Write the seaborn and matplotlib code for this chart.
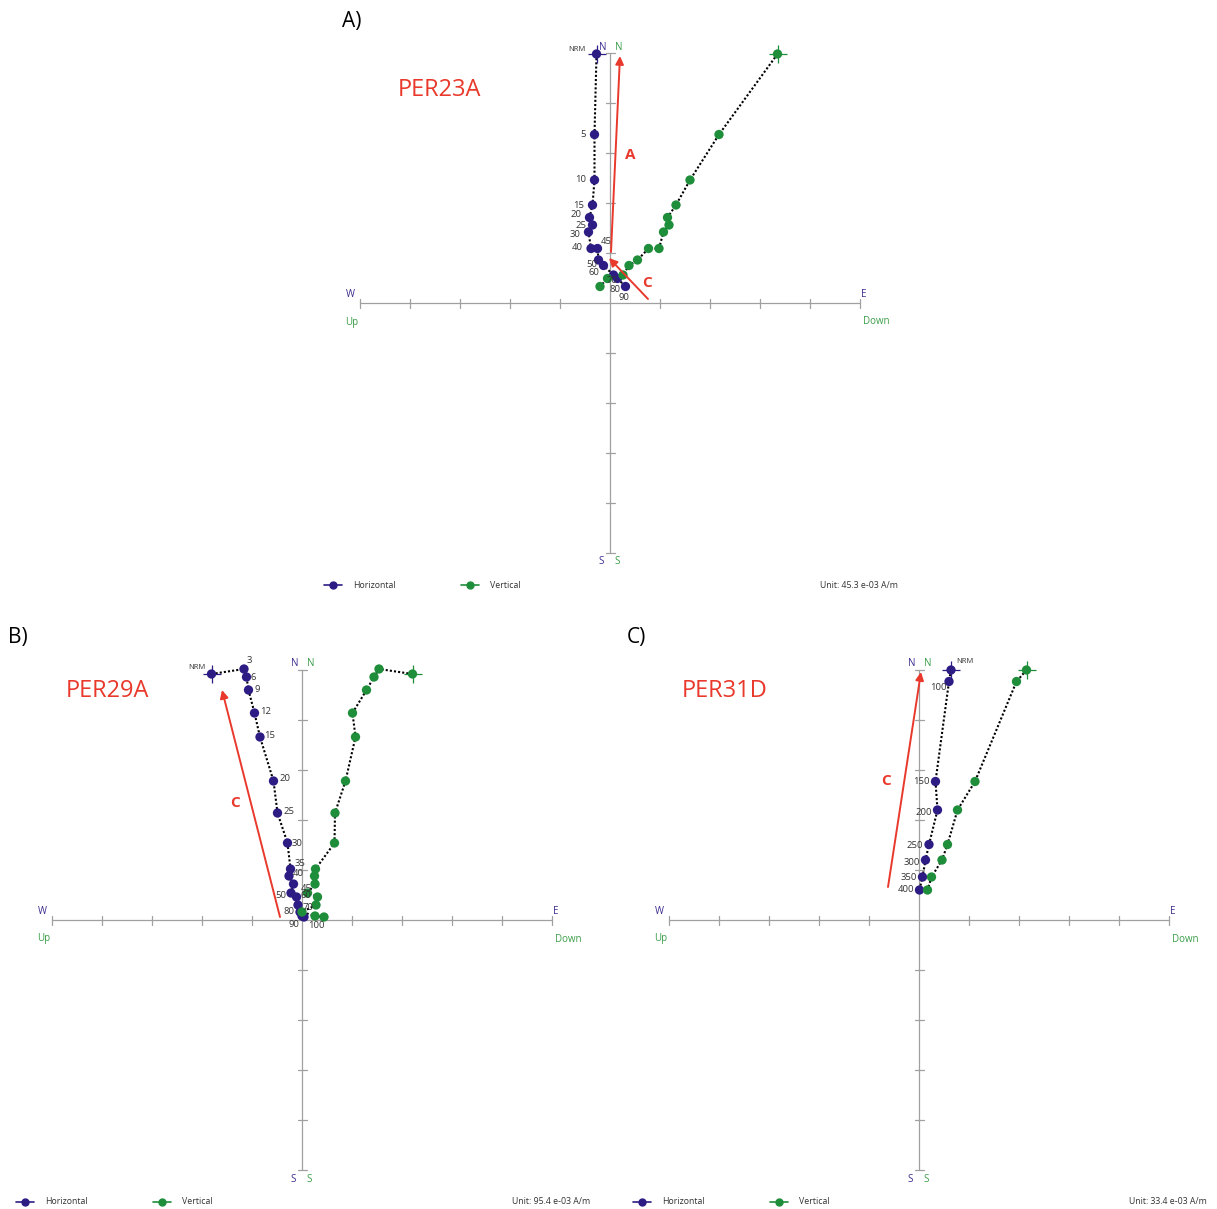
import numpy as np
import pandas as pd
import matplotlib
matplotlib.use("Agg")
import matplotlib.pyplot as plt
import seaborn as sns

# ---------------- data (units of each panel's scale) ----------------
# Panel A: PER23A
a_steps = ["NRM", "5", "10", "15", "20", "25", "30", "40", "45", "50", "60", "70", "80", "90"]
a_east = [-0.27, -0.31, -0.31, -0.35, -0.41, -0.35, -0.43, -0.38, -0.25, -0.23, -0.13, 0.07, 0.15, 0.31]
a_north = [4.98, 3.37, 2.46, 1.96, 1.71, 1.56, 1.42, 1.09, 1.09, 0.86, 0.75, 0.56, 0.49, 0.33]
a_down = [3.35, 2.18, 1.60, 1.32, 1.15, 1.18, 1.07, 0.98, 0.77, 0.55, 0.38, 0.26, -0.05, -0.20]

# Panel B: PER29A
b_steps = ["NRM", "3", "6", "9", "12", "15", "20", "25", "30", "35", "40", "45", "50", "60", "70", "80", "90", "100"]
b_east = [-1.81, -1.16, -1.11, -1.07, -0.95, -0.84, -0.57, -0.49, -0.29, -0.23, -0.26, -0.17, -0.22, -0.11, -0.08, -0.04, 0.00, 0.04]
b_north = [4.92, 5.02, 4.86, 4.60, 4.14, 3.66, 2.78, 2.14, 1.54, 1.02, 0.88, 0.72, 0.54, 0.46, 0.30, 0.16, 0.08, 0.06]
b_down = [2.21, 1.54, 1.44, 1.29, 1.01, 1.07, 0.87, 0.66, 0.65, 0.27, 0.25, 0.26, 0.11, 0.31, 0.28, 0.00, 0.26, 0.44]

# Panel C: PER31D
c_steps = ["NRM", "100", "150", "200", "250", "300", "350", "400"]
c_east = [0.64, 0.60, 0.33, 0.37, 0.20, 0.13, 0.07, 0.01]
c_north = [5.00, 4.77, 2.77, 2.20, 1.51, 1.20, 0.86, 0.60]
c_down = [2.15, 1.95, 1.12, 0.77, 0.57, 0.46, 0.25, 0.17]

panel_letters = ["A)", "B)", "C)"]
sample_names = ["PER23A", "PER29A", "PER31D"]
unit_labels = ["Unit: 45.3 e-03 A/m", "Unit: 95.4 e-03 A/m", "Unit: 33.4 e-03 A/m"]
legend_labels = ["Horizontal", "Vertical"]

# component arrows: (label, start(E,N), end(E,N), label position)
a_arrows = [("A", (0.02, 1.02), (0.20, 4.94), (0.40, 2.96)),
            ("C", (0.76, 0.08), (-0.02, 0.90), (0.74, 0.40))]
b_arrows = [("C", (-0.44, 0.06), (-1.60, 4.60), (-1.34, 2.34))]
c_arrows = [("C", (-0.62, 0.66), (0.04, 4.96), (-0.66, 2.78))]

# ---------------- style ----------------
sns.set_theme(style="white")
plt.rcParams["font.family"] = ["Open Sans", "DejaVu Sans"]

BLUE = "#2d1c84"
GREEN = "#1f8e3b"
BLUE_T = "#3b2d8f"
GREEN_T = "#3a9e48"
RED = "#e8392c"
AXC = "#a0a0a0"
TXT = "#333333"

# label offsets (points) per step: (dx, dy, ha)
a_off = [(-8, 3, "right"), (-6, 0, "right"), (-6, 0, "right"), (-6, 0, "right"), (-6, 2, "right"),
         (-4, 0, "right"), (-6, -2, "right"), (-6, 1, "right"), (2, 5, "left"), (-1, -3, "right"),
         (-3, -5, "right"), (-1, -4, "center"), (-2, -8, "center"), (-1, -8, "center")]
b_off = [(-4, 5, "right"), (2, 6, "left"), (3, 0, "left"), (4, 0, "left"), (4, 1, "left"),
         (3, 1, "left"), (4, 2, "left"), (4, 1, "left"), (3, 0, "left"), (3, 4, "left"),
         (3, 2, "left"), (5, -3, "left"), (-3, -2, "right"), (3, 1, "left"), (3, -2, "left"),
         (-4, 0, "right"), (-2, -6, "right"), (3, -6, "left")]
c_off = [(4, 6, "left"), (-2, -4, "right"), (-4, 0, "right"), (-4, -2, "right"), (-4, -1, "right"),
         (-4, -2, "right"), (-4, 0, "right"), (-4, 0, "right")]

W, H = 1217, 1209
fig = plt.figure(figsize=(W / 100, H / 100), dpi=100)
fig.patch.set_facecolor("white")

HALF = 5.9  # half width of each axes in data units (50 px per unit)


def make_ax(ox, oy):
    px = HALF * 50
    ax = fig.add_axes([(ox - px) / W, (H - (oy + px)) / H, 2 * px / W, 2 * px / H])
    ax.set_xlim(-HALF, HALF)
    ax.set_ylim(-HALF, HALF)
    ax.set_axis_off()
    return ax


def draw_panel(ax, steps, east, north, down, offs, arrows, letter, name, unit):
    # axes cross with ticks
    ax.plot([-5, 5], [0, 0], color=AXC, lw=0.9, zorder=1)
    ax.plot([0, 0], [-5, 5], color=AXC, lw=0.9, zorder=1)
    for t in range(-5, 6):
        if t == 0:
            continue
        ax.plot([t, t], [-0.09, 0.09], color=AXC, lw=0.9, zorder=1)
        ax.plot([-0.09, 0.09], [t, t], color=AXC, lw=0.9, zorder=1)

    fs_ax = 7
    ax.text(-0.14, 5.12, "N", color=BLUE_T, fontsize=fs_ax, ha="center", va="center")
    ax.text(0.18, 5.12, "N", color=GREEN_T, fontsize=fs_ax, ha="center", va="center")
    ax.text(-0.18, -5.18, "S", color=BLUE_T, fontsize=fs_ax, ha="center", va="center")
    ax.text(0.14, -5.18, "S", color=GREEN_T, fontsize=fs_ax, ha="center", va="center")
    ax.text(-5.2, 0.17, "W", color=BLUE_T, fontsize=fs_ax, ha="center", va="center")
    ax.text(5.08, 0.17, "E", color=BLUE_T, fontsize=fs_ax, ha="center", va="center")
    ax.text(-5.16, -0.38, "Up", color=GREEN_T, fontsize=fs_ax, ha="center", va="center")
    ax.text(5.32, -0.38, "Down", color=GREEN_T, fontsize=fs_ax, ha="center", va="center")

    df = pd.DataFrame({"step": steps, "E": east, "N": north, "D": down})

    # dotted connecting paths
    for col in ["E", "D"]:
        sns.lineplot(data=df, x=col, y="N", sort=False, estimator=None, ax=ax,
                     color="black", lw=1.5, linestyle=(0, (1, 1)), zorder=2)
    sns.scatterplot(data=df, x="E", y="N", ax=ax, color=BLUE, s=45, edgecolor="none", zorder=3)
    sns.scatterplot(data=df, x="D", y="N", ax=ax, color=GREEN, s=45, edgecolor="none", zorder=3)
    # NRM crosses
    sns.scatterplot(data=df.iloc[:1], x="E", y="N", ax=ax, color=BLUE, marker="+", s=170, linewidth=0.9, zorder=3)
    sns.scatterplot(data=df.iloc[:1], x="D", y="N", ax=ax, color=GREEN, marker="+", s=170, linewidth=0.9, zorder=3)

    for (st, e, n), (dx, dy, ha) in zip(zip(steps, east, north), offs):
        fs = 5.5 if st == "NRM" else 6.8
        ax.annotate(st, (e, n), xytext=(dx, dy), textcoords="offset points", ha=ha, va="center",
                    fontsize=fs, color=TXT, zorder=4)

    for lab, s, e, lp in arrows:
        ax.annotate("", xy=e, xytext=s,
                    arrowprops=dict(arrowstyle="-|>", color=RED, lw=1.4, mutation_scale=12,
                                    shrinkA=0, shrinkB=0), zorder=5)
        ax.text(lp[0], lp[1], lab, color=RED, fontsize=11, fontweight="bold", ha="center", va="center")

    ax.text(letter[1], 5.64, letter[0], fontsize=15, color="black", ha="center", va="center")
    ax.text(name[1], name[2], name[0], fontsize=17, color=RED, ha="center", va="center")

    # legend
    yl = -5.64
    ax.plot([-5.72, -5.36], [yl, yl], color=BLUE, lw=1.2, zorder=3)
    ax.plot([-5.54], [yl], marker="o", ms=5, color=BLUE, zorder=3)
    ax.text(-5.14, yl, legend_labels[0], fontsize=6.3, color=TXT, ha="left", va="center")
    ax.plot([-2.98, -2.62], [yl, yl], color=GREEN, lw=1.2, zorder=3)
    ax.plot([-2.8], [yl], marker="o", ms=5, color=GREEN, zorder=3)
    ax.text(-2.40, yl, legend_labels[1], fontsize=6.3, color=TXT, ha="left", va="center")
    ax.text(5.76, yl, unit, fontsize=6.3, color=TXT, ha="right", va="center")


axA = make_ax(610, 303)
draw_panel(axA, a_steps, a_east, a_north, a_down, a_off, a_arrows,
           (panel_letters[0], -5.16), (sample_names[0], -3.4, 4.26), unit_labels[0])
axB = make_ax(302, 920)
draw_panel(axB, b_steps, b_east, b_north, b_down, b_off, b_arrows,
           (panel_letters[1], -5.68), (sample_names[1], -3.9, 4.58), unit_labels[1])
axC = make_ax(919, 920)
draw_panel(axC, c_steps, c_east, c_north, c_down, c_off, c_arrows,
           (panel_letters[2], -5.66), (sample_names[2], -3.88, 4.58), unit_labels[2])

for ax in (axA, axB, axC):
    leg = ax.get_legend()
    if leg is not None:
        leg.remove()

fig.savefig("out.png", dpi=100, facecolor="white")
